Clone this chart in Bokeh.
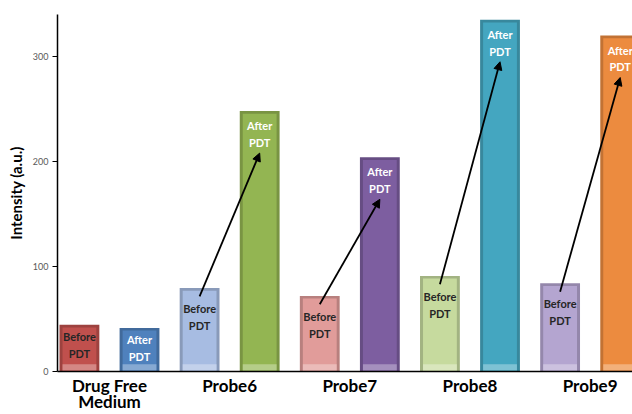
from bokeh.plotting import figure
from bokeh.models import (ColumnDataSource, Range1d, FixedTicker, Title,
                          Arrow, NormalHead)
from bokeh.core.properties import value
from bokeh.embed import file_html
from bokeh.resources import INLINE

# Fluorescence intensity before and after photodynamic therapy
groups = ["Drug Free\nMedium", "Probe6", "Probe7", "Probe8", "Probe9"]
before_pdt = [44.5, 79.5, 72, 91, 84]
after_pdt = [41.5, 248, 204, 335, 320]
before_colors = ["#c0504d", "#a7bce2", "#e19c9a", "#c6da9e", "#b4a5d0"]
after_colors = ["#4f81bd", "#93b552", "#7d5ea0", "#44a6c0", "#ec8b3f"]
y_ticks = [0, 100, 200, 300]

FONT = "Lato"
BAR_W = 0.663
EDGE = 0.05


def mix(hex_color, other, t):
    h = hex_color.lstrip("#")
    a = [int(h[i:i + 2], 16) for i in (0, 2, 4)]
    o = [int(other.lstrip("#")[i:i + 2], 16) for i in (0, 2, 4)]
    c = [round(a[k] + (o[k] - a[k]) * t) for k in range(3)]
    return "#%02x%02x%02x" % tuple(c)


xs, tops, colors, labels, tcolors, yoffs = [], [], [], [], [], []
for g in range(len(groups)):
    for k, (vals, cols, lab, tc) in enumerate((
            (before_pdt, before_colors, "Before\nPDT", "#262626"),
            (after_pdt, after_colors, "After\nPDT", "#ffffff"))):
        v = vals[g]
        xs.append(2 * g + k)
        tops.append(v)
        colors.append(cols[g])
        labels.append(lab)
        tcolors.append(tc)
        # short bars get their caption closer to the top edge
        yoffs.append(5 if v < 60 else (14 if k == 0 else 8))

bars = ColumnDataSource(dict(
    x=xs, top=tops, inner_top=[t - 2.5 for t in tops],
    color=colors,
    dark=[mix(c, "#000000", 0.18) for c in colors],
    light=[mix(c, "#ffffff", 0.35) for c in colors],
    label=labels, tcolor=tcolors, yoff=yoffs,
))

p = figure(width=632, height=414, output_backend="svg", toolbar_location=None,
           x_range=Range1d(-0.365, 9.205), y_range=Range1d(0, 340),
           min_border_left=55, min_border_right=0, min_border_top=14,
           min_border_bottom=41)
p.outline_line_color = None
p.xgrid.visible = False
p.ygrid.visible = False
p.background_fill_color = "white"

# bevelled bars: dark rim, face, light base strip
p.vbar(x="x", top="top", bottom=0, width=BAR_W, source=bars,
       fill_color="dark", line_color=None)
p.vbar(x="x", top="inner_top", bottom=0, width=BAR_W - 2 * EDGE, source=bars,
       fill_color="color", line_color=None)
p.vbar(x="x", top=7, bottom=1, width=BAR_W - 2 * EDGE, source=bars,
       fill_color="light", line_color=None, fill_alpha=0.9)

p.text(x="x", y="top", text="label", source=bars, y_offset="yoff",
       text_align="center", text_baseline="top",
       text_font=value(FONT), text_font_style="bold", text_font_size="11px",
       text_color="tcolor", text_line_height=1.3)

# arrows from the "before" bar to the "after" bar of each probe
arrows = ColumnDataSource(dict(
    x_start=[2 * g for g in range(1, len(groups))],
    y_start=[before_pdt[g] - 8 for g in range(1, len(groups))],
    x_end=[2 * g + 1 for g in range(1, len(groups))],
    y_end=[after_pdt[g] - 40 for g in range(1, len(groups))],
))
p.add_layout(Arrow(x_start="x_start", y_start="y_start", x_end="x_end",
                   y_end="y_end", source=arrows, line_width=1.8,
                   line_color="black",
                   end=NormalHead(size=8, fill_color="black",
                                  line_color="black")))

# y axis
p.yaxis.ticker = FixedTicker(ticks=y_ticks)
p.yaxis.minor_tick_line_color = None
p.yaxis.major_tick_in = 0
p.yaxis.major_tick_out = 5
p.yaxis.axis_line_width = 1.5
p.yaxis.axis_line_color = "black"
p.yaxis.major_tick_line_color = "black"
p.yaxis.major_label_text_font = FONT
p.yaxis.major_label_text_font_size = "9px"
p.yaxis.major_label_text_color = "#595959"
p.yaxis.major_label_standoff = 4

# x axis: one label per group, centred between its two bars
centers = [2 * g + 0.5 for g in range(len(groups))]
p.xaxis.ticker = FixedTicker(ticks=centers)
p.xaxis.major_label_overrides = {c: name for c, name in zip(centers, groups)}
p.xaxis.major_tick_in = 0
p.xaxis.major_tick_out = 0
p.xaxis.minor_tick_line_color = None
p.xaxis.axis_line_width = 1.5
p.xaxis.axis_line_color = "black"
p.xaxis.major_label_text_font = FONT
p.xaxis.major_label_text_font_style = "bold"
p.xaxis.major_label_text_font_size = "17px"
p.xaxis.major_label_text_color = "black"
p.xaxis.major_label_text_line_height = 0.78
p.xaxis.major_label_standoff = 3

# y axis title, shifted up from the frame centre
p.add_layout(Title(text="Intensity (a.u.)", align="center", offset=46,
                   text_font=FONT, text_font_style="bold",
                   text_font_size="15px", text_color="black", standoff=9),
             "left")

open("out.html", "w").write(file_html(p, INLINE))
